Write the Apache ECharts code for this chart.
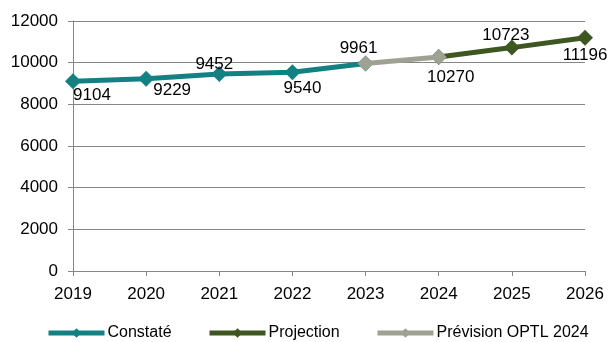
<!DOCTYPE html>
<html>
<head>
<meta charset="utf-8">
<script src="https://cdn.jsdelivr.net/npm/echarts@6/dist/echarts.min.js"></script>
<style>
	html, body { margin: 0; padding: 0; background: #fff; }
	#chart { width: 612px; height: 342px; }
</style>
</head>
<body>
<div id="chart"></div>
<script>
	var years = ['2019', '2020', '2021', '2022', '2023', '2024', '2025', '2026'];
	var constate = [9104, 9229, 9452, 9540, 9961, null, null, null];
	var prevision = [null, null, null, null, 9961, 10270, null, null];
	var projection = [null, null, null, null, null, 10270, 10723, 11196];
	var yTicks = [0, 2000, 4000, 6000, 8000, 10000, 12000];
	var seriesNames = ['Constaté', 'Projection', 'Prévision OPTL 2024'];

	// where each value label sits, relative to its point (Excel style)
	var labelOffsets = [[19, 14], [26, 12], [-5, -10], [10, 16], [-7, -15], [12, 20], [-6, -12], [0, 18]];
	var legendLeft = [46, 207, 375];

	var font = '"Liberation Sans", Arial, sans-serif';
	var grey = '#868686';
	var colors = ['#138083', '#3E5620', '#9FA293'];

	// which series writes the label of a shared point
	function labelsFor(values, skip) {
		return values.map(function(v, i) {
			if (v === null) return null;
			return {
				value : v,
				label : {
					show : skip.indexOf(i) < 0,
					position : 'inside',
					offset : labelOffsets[i]
				}
			};
		});
	}

	function lineSeries(name, data, color, z) {
		return {
			name : name,
			type : 'line',
			data : data,
			z : z,
			symbol : 'diamond',
			symbolSize : 16,
			showAllSymbol : true,
			connectNulls : false,
			animation : false,
			lineStyle : { width : 5, color : color },
			itemStyle : { color : color },
			label : {
				color : '#000',
				fontFamily : font,
				fontSize : 17
			}
		};
	}

	var legends = seriesNames.map(function(n, i) {
		return {
			left : legendLeft[i],
			top : 325,
			padding : 0,
			itemWidth : 56,
			itemHeight : 12,
			itemGap : 0,
			lineStyle : { width : 5 },
			textStyle : { fontFamily : font, fontSize : 16, color : '#000', padding : [0, 0, 0, -2] },
			data : [n]
		};
	});

	var chart = echarts.init(document.getElementById('chart'));
	var option = {
		backgroundColor : '#fff',
		grid : { left : 73, right : 27, top : 21, bottom : 71 },
		legend : legends,
		xAxis : {
			type : 'category',
			data : years,
			boundaryGap : false,
			axisLine : { lineStyle : { color : grey, width : 1 } },
			axisTick : { show : true, length : 5, lineStyle : { color : grey } },
			axisLabel : { color : '#000', fontFamily : font, fontSize : 17, margin : 15 },
			splitLine : { show : false }
		},
		yAxis : {
			type : 'value',
			min : yTicks[0],
			max : yTicks[yTicks.length - 1],
			interval : 2000,
			axisLine : { show : true, lineStyle : { color : grey, width : 1 } },
			axisTick : { show : true, length : 5, lineStyle : { color : grey } },
			axisLabel : {
				color : '#000',
				fontFamily : font,
				fontSize : 17,
				margin : 15,
				formatter : function(v) { return String(v); }
			},
			splitLine : { show : true, lineStyle : { color : grey, width : 1 } }
		},
		series : [
			lineSeries(seriesNames[0], labelsFor(constate, []), colors[0], 3),
			lineSeries(seriesNames[1], labelsFor(projection, [5]), colors[1], 3),
			lineSeries(seriesNames[2], labelsFor(prevision, [4]), colors[2], 4)
		]
	};
	chart.setOption(option);
</script>
</body>
</html>
